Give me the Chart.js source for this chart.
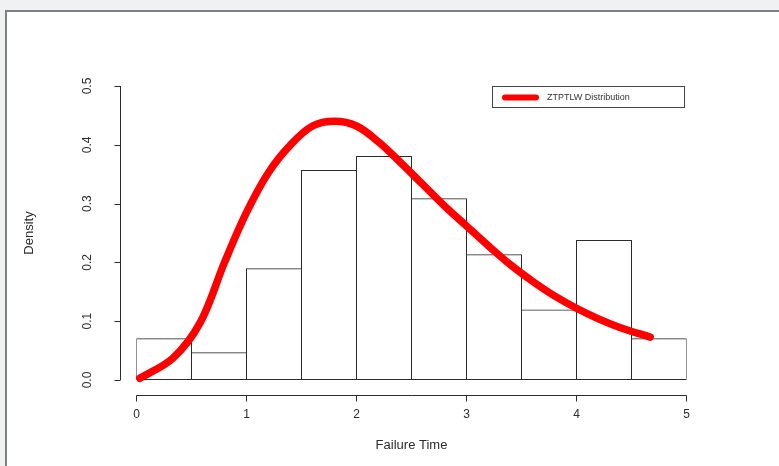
<!DOCTYPE html>
<html>
<head>
<meta charset="utf-8">
<script src="https://cdn.jsdelivr.net/npm/chart.js@4"></script>
<style>
  html, body { margin: 0; padding: 0; background: #f0f1f3; width: 779px; height: 466px; overflow: hidden; }
  .panel { position: absolute; left: 5px; top: 10px; right: 0; bottom: 0; background: #fff;
           border-top: 2px solid #808080; border-left: 2px solid #808080; }
  #chart { position: absolute; left: 0; top: 0; }
</style>
</head>
<body>
<div class="panel"></div>
<canvas id="chart" width="779" height="466"></canvas>
<script>
// histogram bins (centres) and density heights
const binCenters = [0.25, 0.75, 1.25, 1.75, 2.25, 2.75, 3.25, 3.75, 4.25, 4.75];
const binDensity = [0.071, 0.047, 0.190, 0.357, 0.381, 0.309, 0.214, 0.120, 0.238, 0.071];

// fitted ZTPTLW density curve
const curveX = [0.03, 0.33, 0.58, 0.8, 1.0, 1.2, 1.4, 1.6, 1.8, 2.0, 2.2, 2.4, 2.6, 2.8, 3.0, 3.2, 3.4, 3.6, 3.8, 4.0, 4.2, 4.4, 4.67];
const curveY = [0.003, 0.037, 0.098, 0.200, 0.285, 0.353, 0.400, 0.432, 0.440, 0.432, 0.405, 0.370, 0.333, 0.296, 0.262, 0.228, 0.196, 0.168, 0.143, 0.122, 0.104, 0.089, 0.073];

const xTicks = [0, 1, 2, 3, 4, 5];
const yTicks = [0, 0.1, 0.2, 0.3, 0.4, 0.5];
const yTickLabels = ['0.0', '0.1', '0.2', '0.3', '0.4', '0.5'];

const legendLabel = 'ZTPTLW Distribution';

// R-style axes + legend, drawn from the chart scales
const rAxes = {
    id: 'rAxes',
    afterDraw(chart) {
        const ctx = chart.ctx;
        const xs = chart.scales.x, ys = chart.scales.y;
        ctx.save();
        ctx.strokeStyle = '#2b2b2b';
        ctx.fillStyle = '#2b2b2b';
        ctx.lineWidth = 1;

        // x axis
        const axY = 395.5;
        ctx.beginPath();
        ctx.moveTo(Math.floor(xs.getPixelForValue(xTicks[0])) + 0.5, axY);
        ctx.lineTo(Math.floor(xs.getPixelForValue(xTicks[xTicks.length - 1])) + 0.5, axY);
        xTicks.forEach(t => {
            const p = Math.floor(xs.getPixelForValue(t)) + 0.5;
            ctx.moveTo(p, axY);
            ctx.lineTo(p, axY + 6);
        });
        ctx.stroke();
        ctx.font = '12px "Liberation Sans", Arial, sans-serif';
        ctx.textAlign = 'center';
        ctx.textBaseline = 'middle';
        xTicks.forEach(t => ctx.fillText(String(t), xs.getPixelForValue(t), 415));

        // y axis
        const axX = 120.5;
        ctx.beginPath();
        ctx.moveTo(axX, ys.getPixelForValue(yTicks[0]));
        ctx.lineTo(axX, ys.getPixelForValue(yTicks[yTicks.length - 1]));
        yTicks.forEach(t => {
            const p = Math.round(ys.getPixelForValue(t)) + 0.5;
            ctx.moveTo(axX, p);
            ctx.lineTo(axX - 6, p);
        });
        ctx.stroke();
        yTicks.forEach((t, i) => {
            ctx.save();
            ctx.translate(88, ys.getPixelForValue(t));
            ctx.rotate(-Math.PI / 2);
            ctx.fillText(yTickLabels[i], 0, 0);
            ctx.restore();
        });

        // axis titles
        ctx.font = '13px "Liberation Sans", Arial, sans-serif';
        ctx.fillText('Failure Time', (xs.left + xs.right) / 2, 445);
        ctx.save();
        ctx.translate(29, ys.getPixelForValue(0.25));
        ctx.rotate(-Math.PI / 2);
        ctx.fillText('Density', 0, 0);
        ctx.restore();

        // legend box
        ctx.lineWidth = 1;
        ctx.strokeStyle = '#444';
        ctx.strokeRect(492.5, 86.5, 192, 21);
        ctx.beginPath();
        ctx.strokeStyle = '#ff0000';
        ctx.lineWidth = 6;
        ctx.lineCap = 'round';
        ctx.moveTo(505, 97.5);
        ctx.lineTo(536, 97.5);
        ctx.stroke();
        ctx.fillStyle = '#333';
        ctx.font = '9px "Liberation Sans", Arial, sans-serif';
        ctx.textAlign = 'left';
        ctx.fillText(legendLabel, 547, 98);
        ctx.restore();
    }
};

new Chart(document.getElementById('chart'), {
    type: 'bar',
    data: {
        datasets: [
            {
                type: 'bar',
                label: 'hist',
                data: binCenters.map((c, i) => ({ x: c, y: binDensity[i] })),
                backgroundColor: 'rgba(255,255,255,0)',
                borderColor: '#2b2b2b',
                borderWidth: 1,
                borderSkipped: false,
                // bins 1px wider than their slot so shared edges overlap into one line
                barPercentage: 56 / 55,
                categoryPercentage: 1,
                order: 2
            },
            {
                type: 'line',
                label: legendLabel,
                data: curveX.map((x, i) => ({ x: x, y: curveY[i] })),
                borderColor: '#ff0000',
                borderWidth: 7.5,
                borderCapStyle: 'round',
                borderJoinStyle: 'round',
                tension: 0.35,
                pointRadius: 0,
                fill: false,
                clip: false,
                order: 1
            }
        ]
    },
    options: {
        responsive: false,
        animation: false,
        layout: { padding: { left: 136.5, right: 92.5, top: 86, bottom: 86 } },
        plugins: { legend: { display: false }, tooltip: { enabled: false } },
        scales: {
            x: { type: 'linear', min: 0, max: 5, display: false, offset: false },
            y: { type: 'linear', min: 0, max: 0.5, display: false }
        }
    },
    plugins: [rAxes]
});
</script>
</body>
</html>
